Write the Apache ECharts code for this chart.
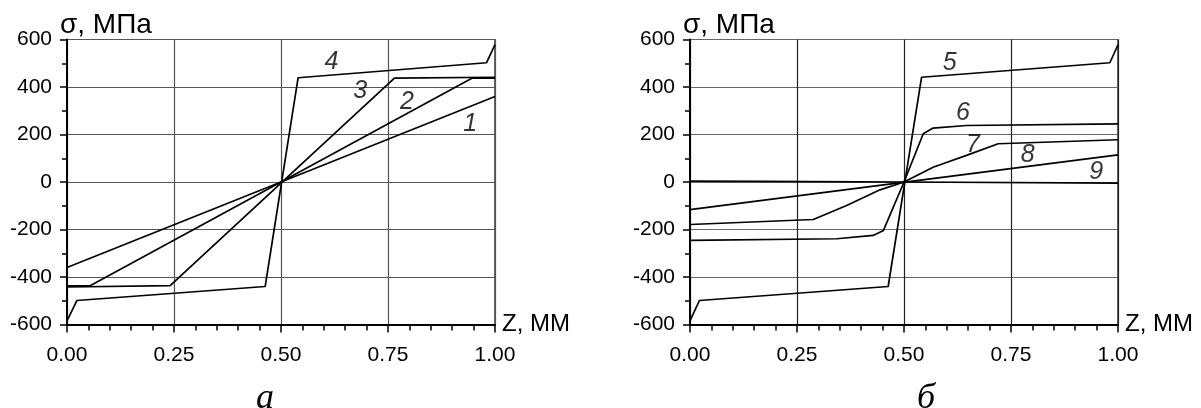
<!DOCTYPE html>
<html><head><meta charset="utf-8">
<script src="https://cdn.jsdelivr.net/npm/echarts@6/dist/echarts.min.js"></script>
<style>html,body{margin:0;padding:0;background:#fff}#c{width:1201px;height:408px}</style>
</head><body><div id="c"></div>
<script>
// Panel a
const curve1 = [[0,-360],[1,360]];
const curve2 = [[0,-437],[0.054,-437],[0.946,437],[1,437]];
const curve3 = [[0,-442],[0.241,-436],[0.765,437],[1,441]];
const curve4 = [[0,-585],[0.023,-499],[0.463,-440],[0.54,439],[0.98,502],[1,578]];
// Panel б
const curve5 = [[0,-585],[0.022,-499],[0.463,-440],[0.541,441],[0.981,502],[1,578]];
const curve6 = [[0,-246],[0.343,-239],[0.428,-225],[0.452,-204],[0.5,0],[0.545,203],[0.568,227],[0.646,238],[1,245]];
const curve7 = [[0,-179],[0.288,-158],[0.366,-99],[0.444,-33],[0.5,0],[0.568,62],[0.646,112],[0.72,161],[1,178]];
const curve8 = [[0,-116],[1,114]];
const curve9 = [[0,4],[0.17,3],[0.5,0],[1,-5]];
// curve number labels (data coords)
const labelsA = [["1",0.942,245],["2",0.794,336],["3",0.685,385],["4",0.618,504]];
const labelsB = [["5",0.607,500],["6",0.638,290],["7",0.661,154],["8",0.789,112],["9",0.949,41]];
const yTicks = {min:-600, max:600, interval:200};
const xTicks = {min:0, max:1, interval:0.25};
const yTitle = "σ, МПа";
const xTitle = "Z, ММ";
const panelNames = ["а","б"];

const chart = echarts.init(document.getElementById('c'), null, {renderer:'canvas'});
const lab = {color:'#000', fontFamily:'Liberation Sans, Arial', fontSize:21};
function xAx(i, vCol){
  return {type:'value', gridIndex:i, min:xTicks.min, max:xTicks.max, interval:xTicks.interval,
    name:xTitle, nameLocation:'end', nameGap:7,
    nameTextStyle:{color:'#000', fontFamily:'Liberation Sans, Arial', fontSize:24, verticalAlign:'middle', align:'left'},
    axisLine:{show:true, onZero:false, lineStyle:{color:'#000', width:2}},
    axisTick:{show:true, inside:false, length:8, lineStyle:{color:'#000', width:1.5}},
    minorTick:{show:true, splitNumber:5, length:6, lineStyle:{color:'#000', width:1.5}},
    axisLabel:{...lab, margin:20, formatter:v=>v.toFixed(2)},
    splitLine:{show:true, lineStyle:{color:vCol, width:1.2}}};
}
function yAx(i, hCol){
  return {type:'value', gridIndex:i, min:yTicks.min, max:yTicks.max, interval:yTicks.interval,
    axisLine:{show:true, onZero:false, lineStyle:{color:'#000', width:2}},
    axisTick:{show:true, inside:false, length:7, lineStyle:{color:'#000', width:1.5}},
    minorTick:{show:true, splitNumber:2, length:5, lineStyle:{color:'#000', width:1.5}},
    axisLabel:{...lab, margin:15, formatter:v=>String(v)},
    splitLine:{show:true, lineStyle:{color:hCol, width:1.2}}};
}
function line(data, i){
  return {type:'line', xAxisIndex:i, yAxisIndex:i, data:data, showSymbol:false, symbol:'none',
    lineStyle:{color:'#000', width:1.7}, silent:true, animation:false, z:3};
}
function labels(arr, i){
  return {type:'scatter', xAxisIndex:i, yAxisIndex:i, symbolSize:1, itemStyle:{color:'rgba(0,0,0,0)'},
    data:arr.map(a=>({name:a[0], value:[a[1],a[2]]})),
    label:{show:true, position:'inside', formatter:p=>p.name, color:'#000', fontStyle:'italic',
      fontFamily:'Liberation Sans, Arial', fontSize:25, textBorderWidth:0},
    animation:false, silent:true, z:5};
}
chart.setOption({
  animation:false,
  grid:[
    {left:67, top:39.5, width:428, height:285, show:true, borderColor:'#000', borderWidth:1.2, backgroundColor:'transparent'},
    {left:690, top:39.5, width:428, height:285, show:true, borderColor:'#000', borderWidth:1.2, backgroundColor:'transparent'}
  ],
  xAxis:[xAx(0,'#555'), xAx(1,'#222')],
  yAxis:[yAx(0,'#555'), yAx(1,'#666')],
  series:[
    line(curve1,0), line(curve2,0), line(curve3,0), line(curve4,0),
    line(curve5,1), line(curve6,1), line(curve7,1), line(curve8,1), line(curve9,1),
    labels(labelsA,0), labels(labelsB,1)
  ],
  graphic:[
    {type:'text', left:60, top:11, style:{text:yTitle, fill:'#000', font:'28px "Liberation Sans", Arial'}},
    {type:'text', left:683, top:11, style:{text:yTitle, fill:'#000', font:'28px "Liberation Sans", Arial'}},
    {type:'text', left:256, top:381, style:{text:panelNames[0], fill:'#000', font:'italic 36px "Liberation Serif", "Times New Roman"'}},
    {type:'text', left:917, top:381, style:{text:panelNames[1], fill:'#000', font:'italic 36px "Liberation Serif", "Times New Roman"'}}
  ]
});
</script></body></html>
